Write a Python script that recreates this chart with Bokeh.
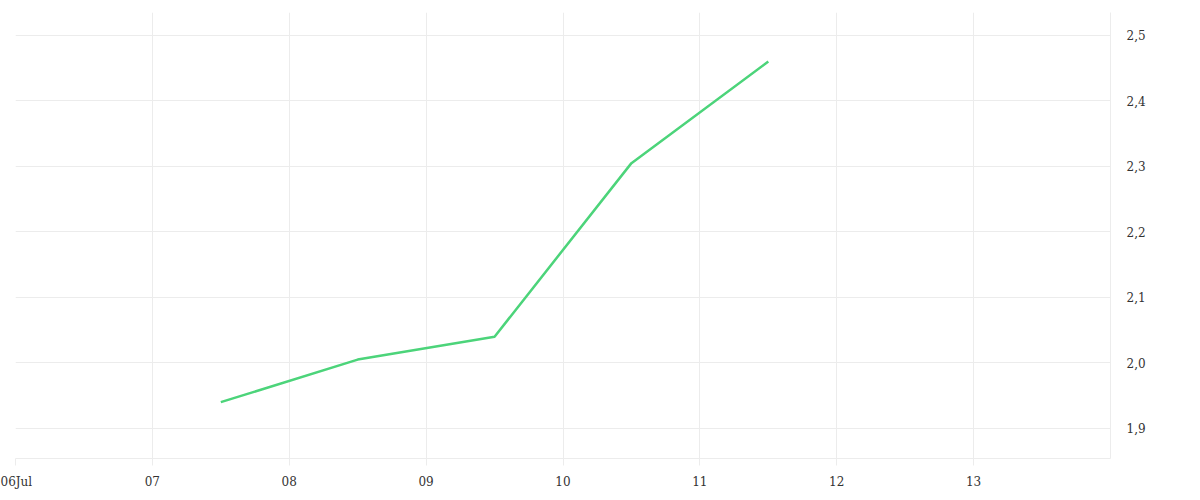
from datetime import datetime
from bokeh.plotting import figure
from bokeh.models import Range1d, FixedTicker, CustomJSTickFormatter, LinearAxis, DatetimeAxis, Grid
from bokeh.embed import file_html
from bokeh.resources import INLINE

# data
dates = ["2023-07-07 12:00", "2023-07-08 12:00", "2023-07-09 12:00", "2023-07-10 12:00", "2023-07-11 12:00"]
values = [1.94, 2.005, 2.04, 2.305, 2.46]
x_ticks = ["2023-07-06", "2023-07-07", "2023-07-08", "2023-07-09", "2023-07-10", "2023-07-11", "2023-07-12", "2023-07-13"]
y_ticks = [1.9, 2.0, 2.1, 2.2, 2.3, 2.4, 2.5]

def ms(s):
    return (datetime.fromisoformat(s) - datetime(1970, 1, 1)).total_seconds() * 1000

xs = [ms(d) for d in dates]
xt = [ms(d) for d in x_ticks]

FONT = "DejaVu Serif"
GRID = "#ececec"

p = figure(width=1192, height=492, output_backend="svg", toolbar_location=None,
           x_axis_location=None, y_axis_location=None,
           x_range=Range1d(ms("2023-07-06"), ms("2023-07-14")),
           y_range=Range1d(1.854, 2.535),
           min_border_left=15, min_border_right=82, min_border_top=12, min_border_bottom=34)
p.outline_line_color = None
p.background_fill_color = "white"
p.border_fill_color = "white"

xaxis = DatetimeAxis(ticker=FixedTicker(ticks=xt))
xaxis.formatter = CustomJSTickFormatter(code="""
const d = new Date(tick);
const dd = String(d.getUTCDate()).padStart(2, '0');
return index == 0 ? dd + 'Jul' : dd;
""")
xaxis.axis_line_color = GRID
xaxis.major_tick_line_color = GRID
xaxis.major_tick_out = 7
xaxis.major_tick_in = 0
xaxis.minor_tick_line_color = None
xaxis.major_label_text_font = FONT
xaxis.major_label_text_font_size = "12px"
xaxis.major_label_text_color = "#333333"
xaxis.major_label_standoff = 9
p.add_layout(xaxis, "below")

yaxis = LinearAxis(ticker=FixedTicker(ticks=y_ticks))
yaxis.formatter = CustomJSTickFormatter(code="return tick.toFixed(1).replace('.', ',');")
yaxis.axis_line_color = GRID
yaxis.major_tick_line_color = None
yaxis.minor_tick_line_color = None
yaxis.major_label_text_font = FONT
yaxis.major_label_text_font_size = "12px"
yaxis.major_label_text_color = "#333333"
yaxis.major_label_standoff = 10
p.add_layout(yaxis, "right")

p.xgrid.grid_line_color = None
p.ygrid.grid_line_color = None
p.add_layout(Grid(dimension=0, ticker=xaxis.ticker, grid_line_color=GRID))
p.add_layout(Grid(dimension=1, ticker=yaxis.ticker, grid_line_color=GRID))

p.line(xs, values, line_color="#4cd47a", line_width=2.5)

open("out.html", "w").write(file_html(p, INLINE))
